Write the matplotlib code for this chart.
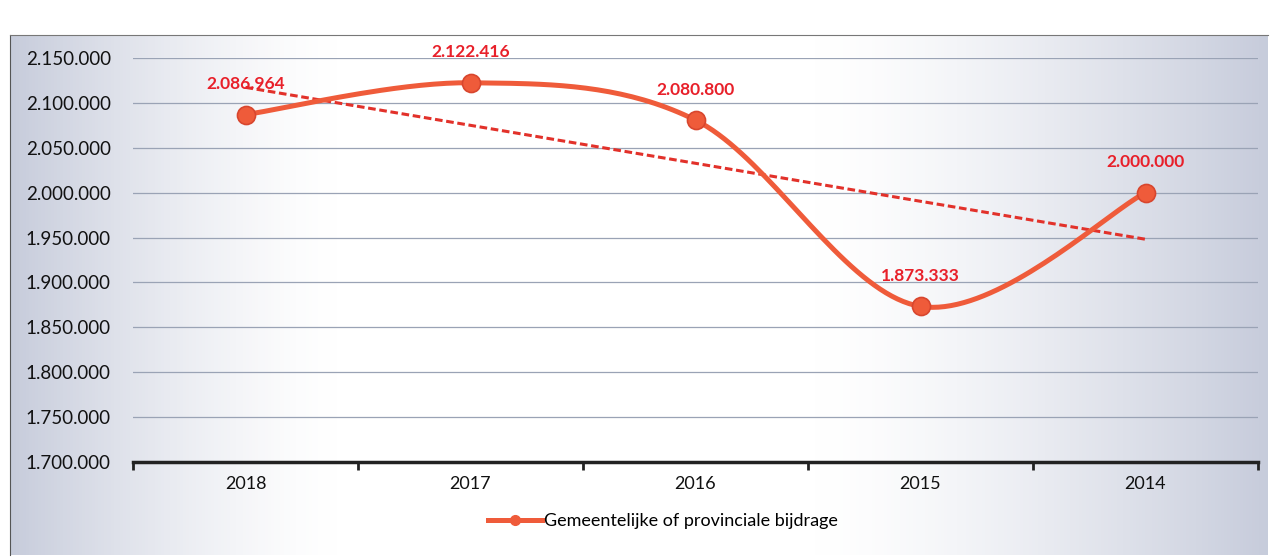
import numpy as np
import matplotlib
matplotlib.use("Agg")
import matplotlib.pyplot as plt
from matplotlib.ticker import FuncFormatter, FixedLocator
from matplotlib.lines import Line2D

years = ['2018', '2017', '2016', '2015', '2014']
bijdrage = [2086964, 2122416, 2080800, 1873333, 2000000]
y_ticks = [1700000, 1750000, 1800000, 1850000, 1900000, 1950000, 2000000, 2050000, 2100000, 2150000]
series_name = 'Gemeentelijke of provinciale bijdrage'

line_col = '#ef5b3a'
label_col = '#e8202a'
trend_col = '#e2312a'

plt.rcParams['font.family'] = ['Lato', 'DejaVu Sans']


def dots(v, pos=None):
    return f'{int(round(v)):,}'.replace(',', '.')


def smooth(xs, ys, n=40):
    # Excel style smoothed line (Catmull-Rom -> cubic bezier)
    px = np.r_[xs[0], xs, xs[-1]]
    py = np.r_[ys[0], ys, ys[-1]]
    outx, outy = [], []
    t = np.linspace(0, 1, n)[:, None]
    for i in range(1, len(xs)):
        p0 = np.array([px[i], py[i]])
        p3 = np.array([px[i + 1], py[i + 1]])
        c1 = p0 + (p3 - np.array([px[i - 1], py[i - 1]])) / 6
        c2 = p3 - (np.array([px[i + 2], py[i + 2]]) - p0) / 6
        b = ((1 - t) ** 3) * p0 + 3 * ((1 - t) ** 2) * t * c1 + 3 * (1 - t) * t ** 2 * c2 + t ** 3 * p3
        outx.extend(b[:, 0])
        outy.extend(b[:, 1])
    return np.array(outx), np.array(outy)


fig = plt.figure(figsize=(12.74, 5.6), dpi=100)
fig.patch.set_facecolor('white')

# chart area background (grey at the edges, white in the middle)
bg = fig.add_axes([10 / 1274, 5 / 560, 1258 / 1274, 520 / 560], zorder=0)
gx = np.linspace(0, 1, 400)
shade = np.clip(np.maximum((0.26 - gx) / 0.26, (gx - 0.64) / 0.36), 0, 1) ** 1.4
edge = np.array([0.78, 0.80, 0.86])
img = 1 - shade[None, :, None] * (1 - edge[None, None, :])
bg.imshow(np.repeat(img, 2, axis=0), aspect='auto', extent=[0, 1, 0, 1])
bg.set_xticks([])
bg.set_yticks([])
for s in ['right', 'bottom']:
    bg.spines[s].set_visible(False)
bg.spines['left'].set_color('#555555')
bg.spines['top'].set_color('#777777')

ax = fig.add_axes([133 / 1274, 1 - 462 / 560, 1125 / 1274, (462 - 58) / 560], zorder=1)
ax.patch.set_alpha(0)

x = np.arange(len(years))
sx, sy = smooth(x, np.array(bijdrage, dtype=float))
ax.plot(sx, sy, color=line_col, lw=3.6, solid_capstyle='round', zorder=3)
ax.plot(x, bijdrage, 'o', color=line_col, markersize=13, markeredgecolor='#d8462e',
        markeredgewidth=1.2, zorder=4)

k, b0 = np.polyfit(x, bijdrage, 1)
ax.plot(x, k * x + b0, '--', color=trend_col, lw=2.2, dashes=(2.5, 1.2), zorder=2)

for xi, v in zip(x, bijdrage):
    ax.annotate(dots(v), (xi, v), xytext=(0, 22), textcoords='offset points',
                ha='center', va='center', color=label_col, fontsize=12.5, fontweight='bold')

ax.set_xlim(-0.5, 4.5)
ax.set_ylim(y_ticks[0], y_ticks[-1])
ax.yaxis.set_major_locator(FixedLocator(y_ticks))
ax.yaxis.set_major_formatter(FuncFormatter(dots))
ax.set_xticks(x)
ax.set_xticklabels(years)
ax.xaxis.set_minor_locator(FixedLocator(np.arange(-0.5, 5, 1)))
ax.tick_params(axis='x', which='major', length=0, pad=10, labelsize=13, labelcolor='#111111')
ax.tick_params(axis='x', which='minor', length=6, width=2, color='#222222')
ax.tick_params(axis='y', length=0, pad=16, labelsize=13.5, labelcolor='#111111')

ax.grid(axis='y', color='#9aa3b5', lw=0.9)
ax.set_axisbelow(True)
for s in ['left', 'right', 'top']:
    ax.spines[s].set_visible(False)
ax.spines['bottom'].set_linewidth(2.5)
ax.spines['bottom'].set_color('#222222')
ax.spines['bottom'].set_zorder(5)

handle = Line2D([0], [0], color=line_col, lw=3.6, marker='o', markersize=7)
fig.legend([handle], [series_name], loc='center', bbox_to_anchor=(0.52, 1 - 521 / 560),
           frameon=False, fontsize=13, handlelength=3, handletextpad=0.1)

fig.savefig('out.png', dpi=100)
